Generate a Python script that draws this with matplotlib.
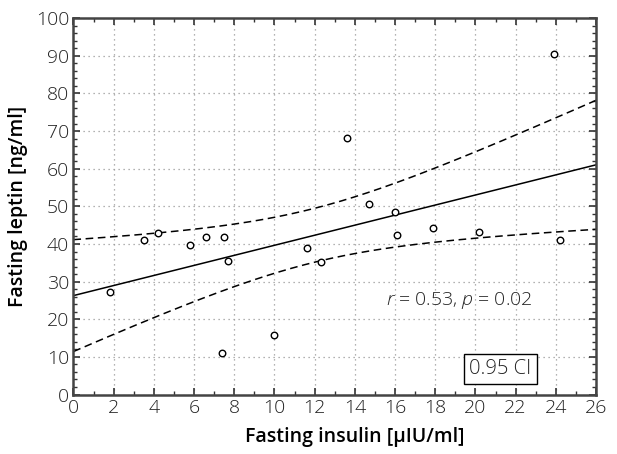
import numpy as np
import matplotlib
matplotlib.use("Agg")
from matplotlib import pyplot as plt
from matplotlib.ticker import MultipleLocator

# fasting insulin [uIU/ml] and fasting leptin [ng/ml]
insulin = [1.8, 3.5, 4.2, 5.8, 6.6, 7.5, 7.7, 7.4, 10.0, 11.6, 12.3,
           13.6, 23.9, 14.7, 16.0, 16.1, 17.9, 20.2, 24.2]
leptin = [27.2, 41.1, 42.8, 39.8, 41.9, 41.9, 35.6, 11.0, 15.7, 38.8, 35.2,
          68.2, 90.6, 50.6, 48.6, 42.5, 44.2, 43.3, 41.1]

stat_text = r"$r$ = 0.53, $p$ = 0.02"
ci_text = "0.95 CI"
t_crit = 2.110  # t(0.975, df=17)

plt.rcParams['font.family'] = ['Open Sans', 'DejaVu Sans']
plt.rcParams['mathtext.fontset'] = 'custom'
plt.rcParams['mathtext.it'] = 'Open Sans:italic:light'
plt.rcParams['mathtext.rm'] = 'Open Sans:light'

x = np.array(insulin)
y = np.array(leptin)
n = len(x)
slope, icept = np.polyfit(x, y, 1)
resid = y - (slope * x + icept)
s = np.sqrt(np.sum(resid ** 2) / (n - 2))
sxx = np.sum((x - x.mean()) ** 2)

xs = np.linspace(0, 26, 200)
fit = slope * xs + icept
half = t_crit * s * np.sqrt(1.0 / n + (xs - x.mean()) ** 2 / sxx)

fig = plt.figure(figsize=(6.17, 4.54), dpi=100)
ax = fig.add_axes([0.119, 0.131, 0.847, 0.829])

ax.plot(xs, fit, color='black', lw=1.1)
ax.plot(xs, fit + half, color='black', lw=1.1, ls=(0, (5, 3)))
ax.plot(xs, fit - half, color='black', lw=1.1, ls=(0, (5, 3)))
ax.scatter(x, y, s=22, facecolors='white', edgecolors='black', linewidths=1.0, zorder=3)

ax.set_xlim(0, 26)
ax.set_ylim(0, 100)
ax.xaxis.set_major_locator(MultipleLocator(2))
ax.xaxis.set_minor_locator(MultipleLocator(1))
ax.yaxis.set_major_locator(MultipleLocator(10))
ax.yaxis.set_minor_locator(MultipleLocator(2))
ax.grid(True, which='major', color='#999999', ls=(0, (1, 3)), lw=0.9)
ax.tick_params(which='both', direction='in', top=True, right=True, labelsize=14,
               color='#333333', labelcolor='#222222', pad=3)
ax.tick_params(which='major', length=5, width=1.2)
ax.tick_params(which='minor', length=3, width=1.0)
for lab in ax.get_xticklabels() + ax.get_yticklabels():
    lab.set_fontweight('light')
for sp in ax.spines.values():
    sp.set_linewidth(1.8)
    sp.set_color('#444444')

ax.set_xlabel("Fasting insulin [\u03bcIU/ml]", fontsize=14, fontweight='semibold', labelpad=10)
ax.xaxis.set_label_coords(0.539, -0.085)
ax.set_ylabel("Fasting leptin [ng/ml]", fontsize=14, fontweight='semibold', labelpad=6)

ax.text(19.2, 24.9, stat_text, fontsize=14, fontweight='light', color='#222222',
        ha='center', va='center')
ax.text(19.7, 6.9, ci_text, fontsize=14.5, fontweight='light', color='#222222',
        ha='left', va='center',
        bbox=dict(boxstyle='square,pad=0.25', fc='white', ec='black', lw=1.0))

fig.savefig("out.png", dpi=100)
